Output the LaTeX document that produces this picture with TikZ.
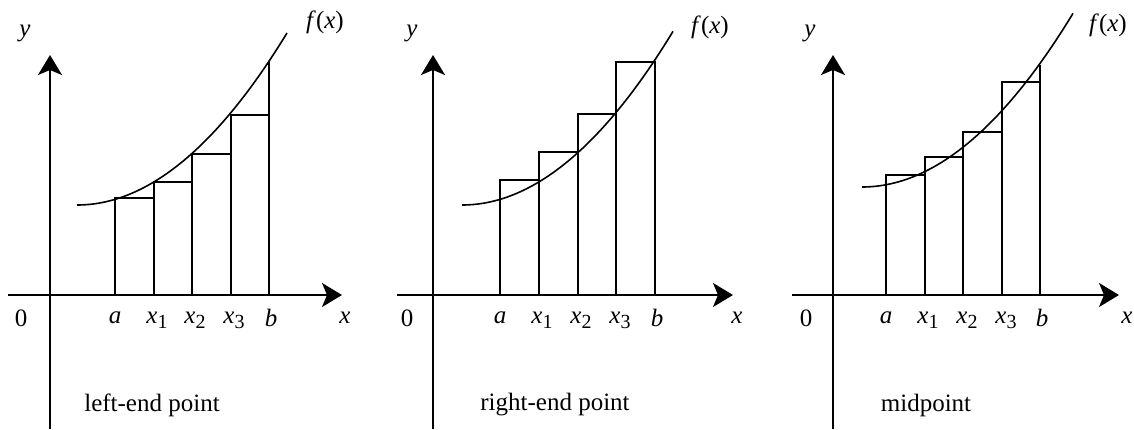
\documentclass[tikz,border=0pt]{standalone}
\usepackage{fontspec}
\setmainfont{Liberation Serif}
\usetikzlibrary{arrows.meta}
\newcommand\xsub[1]{\textit{x}\raisebox{-0.45ex}{\fontsize{10}{10}\selectfont #1}}
\begin{document}
\begin{tikzpicture}[x=0.5pt,y=-0.5pt,
  axisline/.style={line width=1pt,-{Stealth[length=10pt,width=12pt,inset=2.5pt]}},
  bar/.style={line width=1pt},
  fcurve/.style={line width=0.8pt},
  lbl/.style={font=\fontsize{12.5}{14}\selectfont, inner sep=0pt},
  captext/.style={font=\fontsize{12.5}{14}\selectfont, inner sep=0pt}]
\useasboundingbox (0,0) rectangle (1134,429);

% ---------------- Panel 1: left-end point ----------------
\draw[axisline] (50,429) -- (50,55);
\draw[axisline] (8,295) -- (342,295);
\draw[bar] (115,295) rectangle (153.5,198);
\draw[bar] (153.5,295) rectangle (192,182);
\draw[bar] (192,295) rectangle (230.5,154);
\draw[bar] (230.5,295) rectangle (269,115);
\draw[bar] (269,115) -- (269,62);
\draw[fcurve] plot[domain=0:210,samples=60] ({77+\x},{205-(0.06245*\x)^2});
\node[lbl] (y1) at (25,33) {\textit{y}};
\node[lbl] (f1) at (325,22) {\textit{f}(\textit{x})};
\node[lbl] (o1) at (21,318) {0};
\node[lbl] (a1) at (115,318) {\textit{a}};
\node[lbl] (p11) at (157,320) {\xsub{1}};
\node[lbl] (p21) at (195,320) {\xsub{2}};
\node[lbl] (p31) at (234,320) {\xsub{3}};
\node[lbl] (b1) at (271,318) {\textit{b}};
\node[lbl] (x1) at (345,318) {\textit{x}};
\node[captext] (c1) at (152,405) {left-end point};

% ---------------- Panel 2: right-end point ----------------
\draw[axisline] (433,429) -- (433,55);
\draw[axisline] (397,295) -- (733,295);
\draw[bar] (500,295) rectangle (538.75,180);
\draw[bar] (538.75,295) rectangle (577.5,152);
\draw[bar] (577.5,295) rectangle (616.25,114);
\draw[bar] (616.25,295) rectangle (655,62);
\draw[fcurve] plot[domain=0:211,samples=60] ({462+\x},{205-(0.06245*\x)^2});
\node[lbl] (y2) at (412,33) {\textit{y}};
\node[lbl] (f2) at (710,27) {\textit{f}(\textit{x})};
\node[lbl] (o2) at (407,318) {0};
\node[lbl] (a2) at (500,318) {\textit{a}};
\node[lbl] (p12) at (542,320) {\xsub{1}};
\node[lbl] (p22) at (581,320) {\xsub{2}};
\node[lbl] (p32) at (620,320) {\xsub{3}};
\node[lbl] (b2) at (657,318) {\textit{b}};
\node[lbl] (x2) at (737,318) {\textit{x}};
\node[captext] (c2) at (555,405) {right-end point};

% ---------------- Panel 3: midpoint ----------------
\draw[axisline] (833,429) -- (833,55);
\draw[axisline] (792,295) -- (1119,295);
\draw[bar] (886,295) rectangle (924.5,175);
\draw[bar] (924.5,295) rectangle (963,157);
\draw[bar] (963,295) rectangle (1001.5,132);
\draw[bar] (1001.5,295) rectangle (1040,82);
\draw[bar] (1040,82) -- (1040,65);
\draw[fcurve] plot[domain=0:211,samples=60] ({862+\x},{187-(0.06245*\x)^2});
\node[lbl] (y3) at (810,33) {\textit{y}};
\node[lbl] (f3) at (1108,25) {\textit{f}(\textit{x})};
\node[lbl] (o3) at (806,318) {0};
\node[lbl] (a3) at (886,318) {\textit{a}};
\node[lbl] (p13) at (928,320) {\xsub{1}};
\node[lbl] (p23) at (967,320) {\xsub{2}};
\node[lbl] (p33) at (1006,320) {\xsub{3}};
\node[lbl] (b3) at (1042,318) {\textit{b}};
\node[lbl] (x3) at (1127,318) {\textit{x}};
\node[captext] (c3) at (926,405) {midpoint};
\end{tikzpicture}
\end{document}
